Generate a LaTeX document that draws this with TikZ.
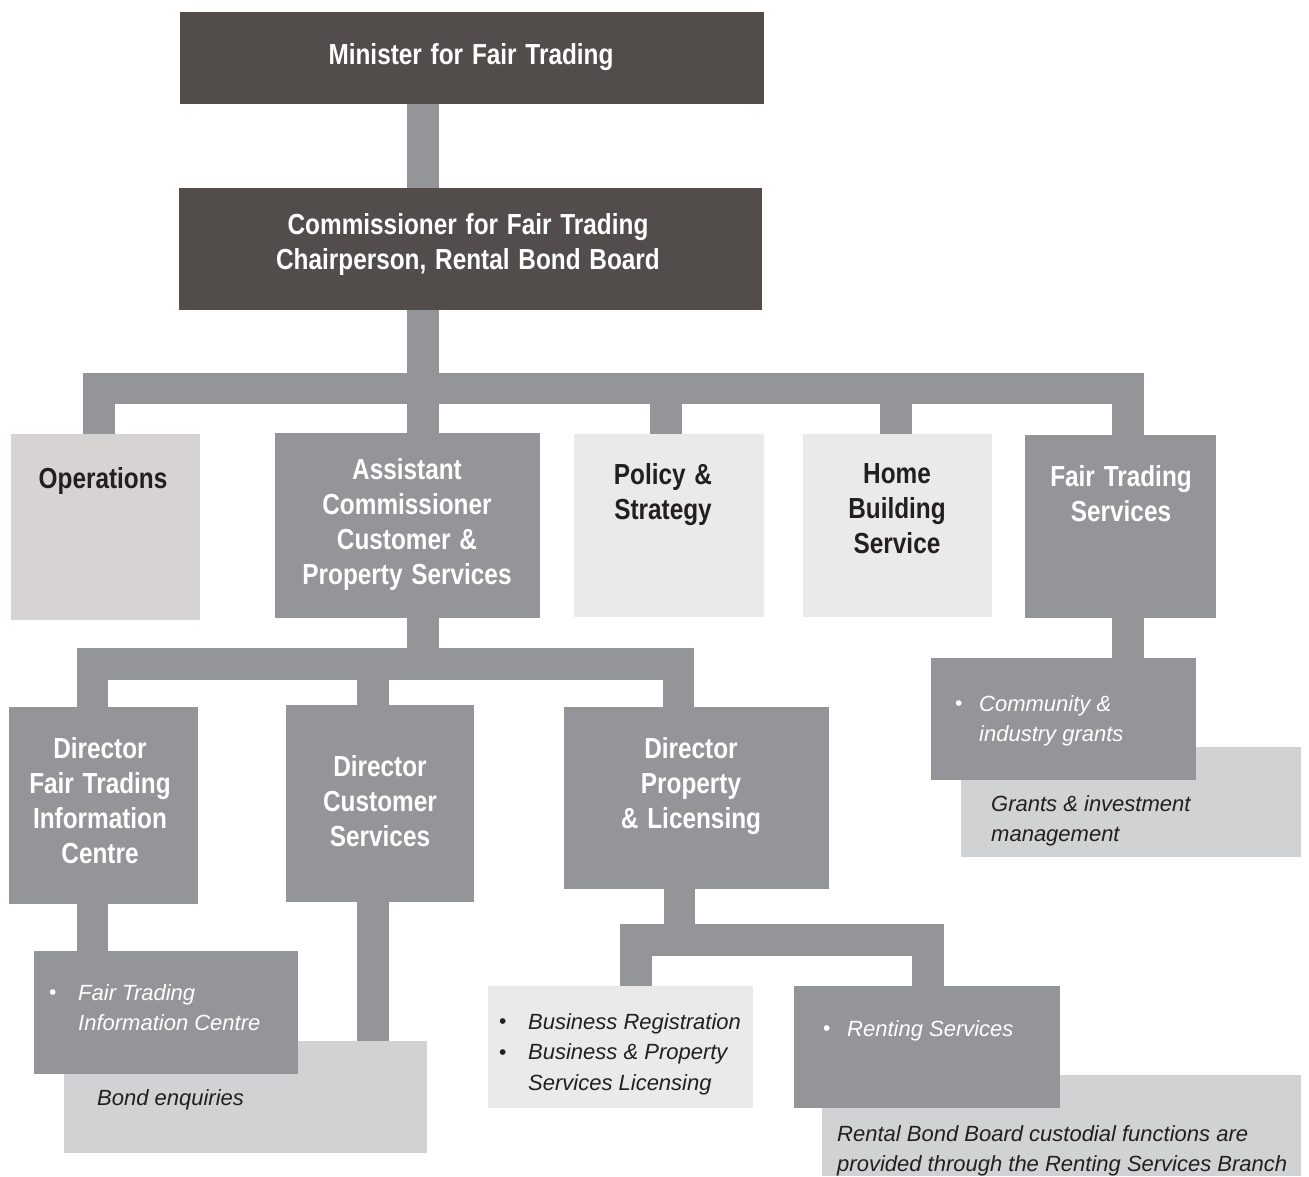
\documentclass[tikz,border=0pt]{standalone}
\usepackage{fontspec}
\setmainfont{Liberation Sans}
\newfontfamily\hdfont[FakeStretch=0.84,WordSpace=1.3]{Liberation Sans}
\usetikzlibrary{calc}
\definecolor{darkbox}{RGB}{82,77,74}
\definecolor{midgrey}{RGB}{147,149,152}
\definecolor{opsgrey}{RGB}{215,211,210}
\definecolor{lightbox}{RGB}{233,234,233}
\definecolor{notegrey}{RGB}{209,210,212}
\definecolor{inkdark}{RGB}{35,31,32}
\newcommand\mkbox[6]{\node[boxnode, fill=#6, minimum width={(#4)-(#2)}, minimum height={(#5)-(#3)}] (#1) at (#2,#3) {};}
\newcommand\bul{\makebox[29pt][l]{\raisebox{0.5pt}{\upshape\fontsize{21}{21}\selectfont •}}}
\newcommand\buls{\makebox[24pt][l]{\raisebox{0.5pt}{\upshape\fontsize{21}{21}\selectfont •}}}
\begin{document}
\begin{tikzpicture}[x=1pt,y=-1pt,
  boxnode/.style={rectangle, inner sep=0pt, outer sep=0pt, draw=none, anchor=north west},
  bar/.style={draw=midgrey, line width=31.5pt, line join=miter},
  hdtext/.style={inner sep=0pt, anchor=base, font=\hdfont\bfseries\fontsize{29}{35}\selectfont},
  ittext/.style={inner sep=0pt, anchor=base west, font=\itshape\fontsize{22}{30.5}\selectfont},
]
\fill[white] (0,0) rectangle (1309,1176);
\useasboundingbox (0,0) rectangle (1309,1176);

% boxes
\mkbox{min}{180}{12}{764}{104}{darkbox}
\mkbox{com}{179}{188}{762}{310}{darkbox}
\mkbox{ops}{11}{434}{200}{620}{opsgrey}
\mkbox{ac}{275}{433}{540}{618}{midgrey}
\mkbox{pol}{574}{434}{764}{617}{lightbox}
\mkbox{home}{803}{434}{992}{617}{lightbox}
\mkbox{fts}{1025}{435}{1216}{618}{midgrey}
\mkbox{ftic}{9}{707}{198}{904}{midgrey}
\mkbox{cs}{286}{705}{474}{902}{midgrey}
\mkbox{pl}{564}{707}{829}{889}{midgrey}
\mkbox{grants}{961}{747}{1301}{857}{notegrey}
\mkbox{ftsub}{931}{658}{1196}{780}{midgrey}
\mkbox{bond}{64}{1041}{427}{1153}{notegrey}
\mkbox{fticsub}{34}{951}{298}{1074}{midgrey}
\mkbox{note}{822}{1075}{1301}{1176}{notegrey}
\mkbox{biz}{488}{986}{753}{1108}{lightbox}
\mkbox{rent}{794}{986}{1060}{1108}{midgrey}

% bar coordinates
\coordinate (c1) at (423,388.5);
\coordinate (b1L) at (99,388.5);
\coordinate (b1R) at (1128,388.5);
\coordinate (b1p) at (666,388.5);
\coordinate (b1h) at (896,388.5);
\coordinate (b2L) at (92.5,664);
\coordinate (b2R) at (678.5,664);
\coordinate (b2c) at (373,664);
\coordinate (b3m) at (679.5,940);
\coordinate (b3L) at (636,940);
\coordinate (b3R) at (928,940);

% connectors
\draw[bar] (min.south -| c1) -- (com.north -| c1);
\draw[bar] (com.south -| c1) -- (ac.north -| c1);
\draw[bar] (ops.north -| b1L) -- (b1L) -- (b1R) -- (fts.north -| b1R);
\draw[bar] (b1p) -- (pol.north -| b1p);
\draw[bar] (b1h) -- (home.north -| b1h);
\draw[bar] (ac.south -| c1) -- (c1 |- b2L);
\draw[bar] (ftic.north -| b2L) -- (b2L) -- (b2R) -- (pl.north -| b2R);
\draw[bar] (b2c) -- (cs.north -| b2c);
\draw[bar] (pl.south -| b3m) -- (b3m);
\draw[bar] (biz.north -| b3L) -- (b3L) -- (b3R) -- (rent.north -| b3R);
\draw[bar] (ftic.south -| b2L) -- (fticsub.north -| b2L);
\draw[bar] (cs.south -| b2c) -- (bond.north -| b2c);
\draw[bar] (fts.south -| b1R) -- (ftsub.north -| b1R);

% headings
\node[hdtext, text=white] (tmin) at (471,64) {Minister for Fair Trading};
\node[hdtext, text=white] (tcom) at (468,234) {\begin{tabular}[t]{@{}c@{}}Commissioner for Fair Trading\\Chairperson, Rental Bond Board\end{tabular}};
\node[hdtext, text=inkdark] (tops) at (103,488) {Operations};
\node[hdtext, text=white] (tac) at (407,479) {\begin{tabular}[t]{@{}c@{}}Assistant\\Commissioner\\Customer \&\\Property Services\end{tabular}};
\node[hdtext, text=inkdark] (tpol) at (663,484) {\begin{tabular}[t]{@{}c@{}}Policy \&\\Strategy\end{tabular}};
\node[hdtext, text=inkdark] (thome) at (897,483) {\begin{tabular}[t]{@{}c@{}}Home\\Building\\Service\end{tabular}};
\node[hdtext, text=white] (tfts) at (1121,486) {\begin{tabular}[t]{@{}c@{}}Fair Trading\\Services\end{tabular}};
\node[hdtext, text=white] (tftic) at (100,758) {\begin{tabular}[t]{@{}c@{}}Director\\Fair Trading\\Information\\Centre\end{tabular}};
\node[hdtext, text=white] (tcs) at (380,776) {\begin{tabular}[t]{@{}c@{}}Director\\Customer\\Services\end{tabular}};
\node[hdtext, text=white] (tpl) at (691,758) {\begin{tabular}[t]{@{}c@{}}Director\\Property\\\& Licensing\end{tabular}};

% italic lists
\node[ittext, text=white] (tfticsub) at (49,1000) {\begin{tabular}[t]{@{}l@{}l@{}}\bul & Fair Trading\\ & Information Centre\end{tabular}};
\node[ittext, text=inkdark] (tbond) at (97,1105) {Bond enquiries};
\node[ittext, text=inkdark] (tbiz) at (499,1029) {\begin{tabular}[t]{@{}l@{}l@{}}\bul & Business Registration\\ \bul & Business \& Property\\ & Services Licensing\end{tabular}};
\node[ittext, text=white] (trent) at (823,1036) {\buls Renting Services};
\node[ittext, text=inkdark] (tnote) at (837,1141) {\begin{tabular}[t]{@{}l@{}}Rental Bond Board custodial functions are\\provided through the Renting Services Branch\end{tabular}};
\node[ittext, text=white] (tftsub) at (955,711) {\begin{tabular}[t]{@{}l@{}l@{}}\buls & Community \&\\ & industry grants\end{tabular}};
\node[ittext, text=inkdark] (tgrants) at (991,811) {\begin{tabular}[t]{@{}l@{}}Grants \& investment\\management\end{tabular}};
\end{tikzpicture}
\end{document}
